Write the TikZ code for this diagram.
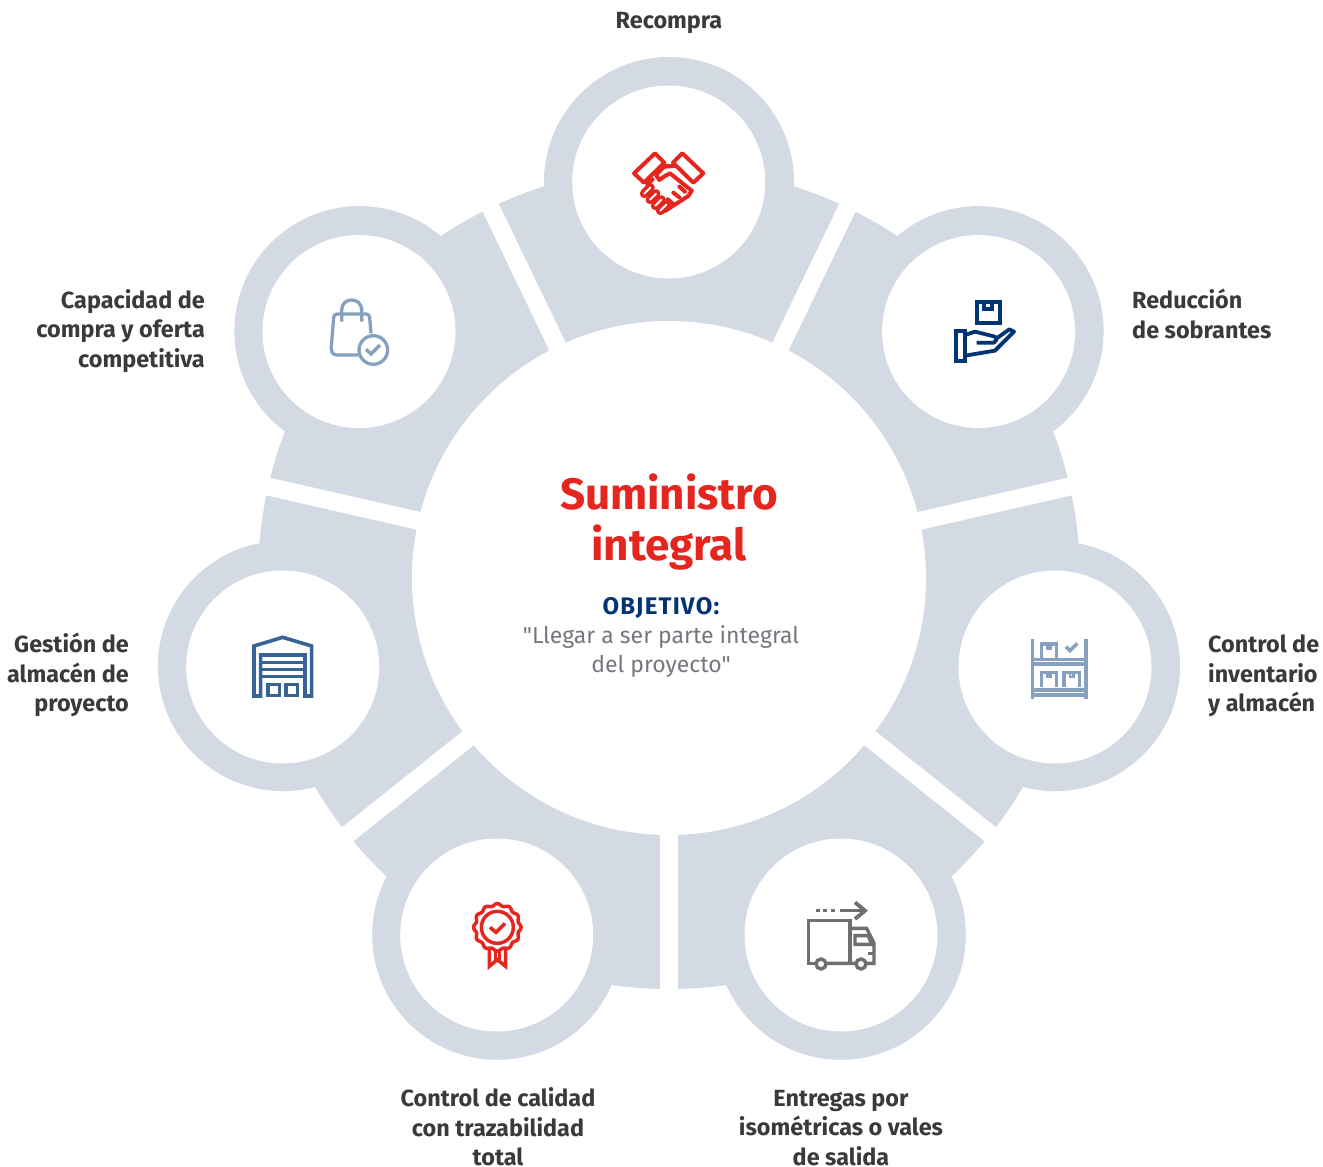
\documentclass[tikz,border=0pt]{standalone}
\usepackage{fontspec}
\usetikzlibrary{calc}
\setmainfont{Fira Sans}
\newfontfamily\plainf{Fira Sans}
\definecolor{petal}{HTML}{D3DAE4}
\definecolor{brandred}{HTML}{E5261F}
\definecolor{navy}{HTML}{003574}
\definecolor{steel}{HTML}{386396}
\definecolor{pale}{HTML}{86A0BF}
\definecolor{slate}{HTML}{6D6F73}
\definecolor{labeltext}{HTML}{3A3A3C}
\definecolor{bodytext}{HTML}{74777D}
\tikzset{
  lab/.style={inner sep=0pt,text=labeltext,font=\fontsize{23.4}{29.5}\selectfont\bfseries},
  labl/.style={lab,anchor=west,align=left},
  labr/.style={lab,anchor=east,align=right},
  labc/.style={lab,anchor=center,align=center},
  disc/.style={circle,fill=white,inner sep=0pt,minimum size=193pt},
}
\newcommand{\zoomscope}[2]{\begin{scope}[shift={(#1,#2)},x=0.3333pt,y=-0.3333pt]}
\begin{document}
\begin{tikzpicture}[x=1pt,y=-1pt]
\useasboundingbox (0,0) rectangle (1323,1167);
\fill[white] (0,0) rectangle (1323,1167);
\coordinate (C) at (669,578);
% gray union
\fill[petal] (C) circle[radius=411pt];
\foreach \a in {90,38.571,-12.857,-64.286,-115.714,-167.143,141.429}{
  \fill[petal] ($(C)+({396*cos(\a)},{-396*sin(\a)})$) circle[radius=125pt];
}
% gaps
\foreach \a in {270,321.429,12.857,64.286,115.714,167.143,218.571}{
  \draw[white,line width=18pt] (C) -- ($(C)+({440*cos(\a)},{-440*sin(\a)})$);
}
% discs
\node[circle,fill=white,inner sep=0pt,minimum size=514pt] (center) at (C) {};
\node[disc] (d1) at (668.7,182) {};
\node[disc] (d2) at (978.6,331.5) {};
\node[disc] (d3) at (1055,667) {};
\node[disc] (d4) at (841,935) {};
\node[disc] (d5) at (496.7,935) {};
\node[disc] (d6) at (282.7,667) {};
\node[disc] (d7) at (359,331.5) {};
% texts
\node[inner sep=0pt,text=brandred,align=center,font=\fontsize{44}{51}\selectfont\bfseries] (title) at (669,522) {Suministro\\integral};
\node[inner sep=0pt,text=navy,font=\fontsize{24}{26}\selectfont\bfseries\addfontfeature{LetterSpace=5}] (obj) at (661,608) {OBJETIVO:};
\node[inner sep=0pt,text=bodytext,align=center,font=\fontsize{23}{29.5}\selectfont\plainf] (goal) at (661,651.5) {"Llegar a ser parte integral\\del proyecto"};
\node[labc] (t1) at (669,23) {Recompra};
\node[labl] (t2) at (1132,314) {Reducción\\de sobrantes};
\node[labl] (t3) at (1208,676) {Control de\\inventario\\y almacén};
\node[labc] (t4) at (841,1128) {Entregas por\\isométricas o vales\\de salida};
\node[labc] (t5) at (498,1127) {Control de calidad\\con trazabilidad\\total};
\node[labr] (t6) at (129,675) {Gestión de\\almacén de\\proyecto};
\node[labr] (t7) at (205,331) {Capacidad de\\compra y oferta\\competitiva};
% handshake
\zoomscope{620}{140}
  \draw[brandred,line width=4pt,line join=round] (42,100)--(105,40)--(133,68)--(72,128)--cycle;
  \draw[brandred,line width=4pt,line join=round] (250,100)--(187,40)--(159,68)--(220,128)--cycle;
  \draw[brandred,line width=4pt,line join=round,line cap=round] (135,78)--(165,78);
  \draw[brandred,line width=4pt,line join=round,line cap=round] (165,78)--(132,80)--(108,105)--(118,120)--(135,108)--(150,100)--(215,152);
  \draw[brandred,line width=4pt,line join=round,line cap=round] (98,118)--(82,135) (135,213)--(205,168)--(215,152);
  \draw[brandred,line width=4pt,line cap=round] (143,178)--(160,192) (160,158)--(178,172) (178,140)--(195,155);
  \foreach \cx/\cy in {82/152,99/170,115/188,130/203}{
    \draw[brandred,line width=9pt,line cap=round] (\cx-9,\cy+9)--(\cx+9,\cy-9);
    \draw[white,line width=2pt,line cap=round] (\cx-9,\cy+9)--(\cx+9,\cy-9);
  }
\end{scope}
% hand with box
\zoomscope{940}{290}
 \draw[navy,line width=3.8pt] (110,37) rectangle (180,100);
 \draw[navy,line width=3.8pt] (132,37)--(132,58)--(155,58)--(155,37);
 \draw[navy,line width=3.8pt] (47,122) rectangle (75,212);
 \draw[navy,line width=3.8pt,line join=round] (75,135)--(105,125)--(165,140)--(170,148)--(162,158)--(110,158);
 \draw[navy,line width=3.8pt,line join=round] (170,145)--(208,118)--(222,125)--(165,182)--(75,197);
\end{scope}
% shelf
\zoomscope{1020}{630}
 \draw[pale,line width=3.4pt] (38,28)--(38,208) (198,28)--(198,208);
 \draw[pale,line width=3.4pt] (38,88)--(198,88) (38,102)--(198,102) (38,180)--(198,180) (38,195)--(198,195);
 \draw[pale,line width=3.4pt] (64,85)--(64,42)--(110,42)--(110,85);
 \draw[pale,line width=3.4pt] (64,172)--(64,127)--(110,127)--(110,172);
 \draw[pale,line width=3.4pt] (132,172)--(132,127)--(178,127)--(178,172);
 \draw[pale,line width=2.6pt] (82,42)--(82,56)--(92,56)--(92,42) (82,127)--(82,141)--(92,141)--(92,127) (150,127)--(150,141)--(160,141)--(160,127);
 \draw[pale,line width=3.6pt] (138,50)--(150,62)--(172,40);
\end{scope}
% truck
\zoomscope{800}{895}
 \draw[slate,line width=3.4pt,dash pattern=on 4pt off 3.4pt] (48,47)--(112,47);
 \draw[slate,line width=3.4pt] (120,47)--(192,47);
 \draw[slate,line width=3.8pt] (165,22)--(195,47)--(165,72);
 \draw[slate,line width=3.4pt] (48,205)--(25,205)--(25,77)--(150,77)--(150,205);
 \draw[slate,line width=3.4pt] (78,205)--(168,205) (198,205)--(222,205)--(222,145)--(200,100)--(150,100);
 \draw[slate,line width=3.4pt] (165,122)--(205,122)--(215,148)--(165,148)--cycle;
 \draw[slate,line width=3.4pt] (205,175)--(222,175);
 \draw[slate,line width=3.4pt] (63,207) circle[radius=5pt] (183,207) circle[radius=5pt];
\end{scope}
% medal
\zoomscope{460}{895}
 \draw[brandred,line width=3.5pt,line join=round] plot[smooth cycle,domain=0:356,samples=90] ({112+(68+3.5*cos(12*\x))*cos(\x)},{97+(68+3.5*cos(12*\x))*sin(\x)});
 \draw[brandred,line width=3.5pt] (112,97) circle[radius=16pt];
 \draw[brandred,line width=3.5pt] (90,97)--(108,112)--(135,85);
 \draw[brandred,line width=3.5pt] (88,160)--(88,214)--(112,194)--(137,214)--(137,160);
 \draw[brandred,line width=3pt] (106,168)--(106,194) (119,168)--(119,194);
\end{scope}
% warehouse
\zoomscope{240}{630}
 \draw[steel,line width=3.6pt] (42,198)--(42,48)--(128,22)--(215,48)--(215,198)--(195,198)--(195,75)--(62,75)--(62,198)--cycle;
 \draw[steel,line width=3.4pt] (62,98)--(195,98) (62,119)--(195,119) (62,140)--(195,140);
 \draw[steel,line width=3.4pt] (84,163) rectangle (118,196);
 \draw[steel,line width=3.4pt] (138,163) rectangle (172,196);
\end{scope}
% bag
\zoomscope{320}{290}
 \draw[pale,line width=3.3pt,line join=round,rounded corners=3pt] (115,195)--(40,195)--(33,180)--(42,72)--(148,72)--(153,130);
 \draw[pale,line width=3.3pt] (65,95)--(65,60) .. controls (65,20) and (125,20) .. (125,60)--(125,95);
 \draw[pale,line width=3.3pt] (160,180) circle[radius=14.3pt];
 \draw[pale,line width=3.3pt] (138,178)--(153,192)--(180,165);
\end{scope}
\end{tikzpicture}
\end{document}
